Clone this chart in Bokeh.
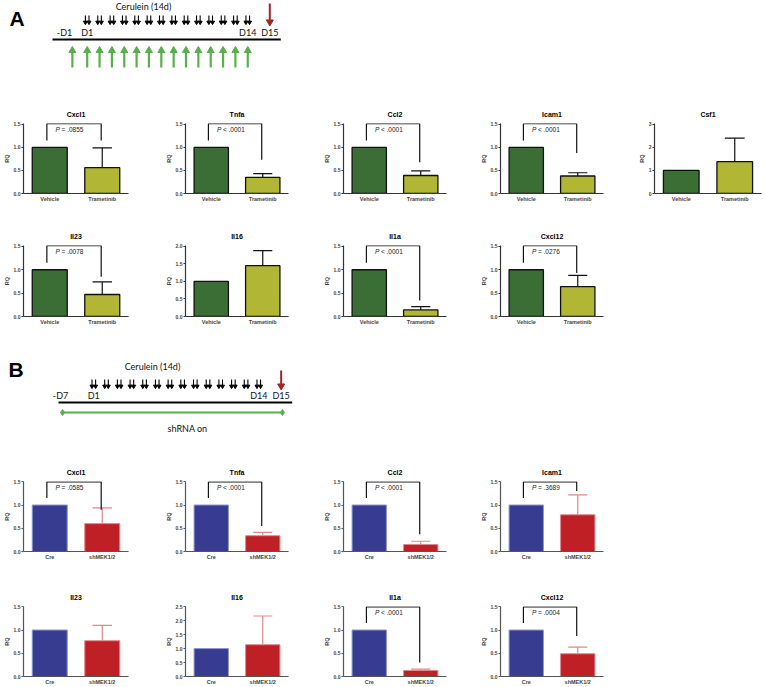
import numpy as np
from bokeh.plotting import figure
from bokeh.layouts import column, row
from bokeh.models import Range1d, FixedTicker, NumeralTickFormatter, Spacer
from bokeh.embed import file_html
from bokeh.resources import INLINE
from bokeh.core.properties import value

# ---------------- data: panel A (trametinib) ----------------
genes_A = ["Cxcl1", "Tnfa", "Ccl2", "Icam1", "Csf1", "Il23", "Il16", "Il1a", "Cxcl12"]
groups_A = ["Vehicle", "Trametinib"]
vehicle_A = [1.0, 1.0, 1.0, 1.0, 1.0, 1.0, 1.0, 1.0, 1.0]
trametinib_A = [0.56, 0.35, 0.39, 0.38, 1.38, 0.47, 1.45, 0.14, 0.64]
trametinib_err_A = [0.43, 0.08, 0.10, 0.07, 1.02, 0.27, 0.43, 0.07, 0.24]
pvals_A = ["P = .0855", "P < .0001", "P < .0001", "P < .0001", "", "P = .0078", "", "P < .0001", "P = .0276"]
ymax_A = [1.5, 1.5, 1.5, 1.5, 3.0, 1.5, 2.0, 1.5, 1.5]
ystep_A = [0.5, 0.5, 0.5, 0.5, 1.0, 0.5, 0.5, 0.5, 0.5]
bracket_right_A = [1.15, 0.73, 0.68, 0.88, 0, 0.85, 0, 0.34, 0.93]

# ---------------- data: panel B (shMEK1/2) ----------------
genes_B = ["Cxcl1", "Tnfa", "Ccl2", "Icam1", "Il23", "Il16", "Il1a", "Cxcl12"]
groups_B = ["Cre", "shMEK1/2"]
cre_B = [1.0, 1.0, 1.0, 1.0, 1.0, 1.0, 1.0, 1.0]
shmek_B = [0.60, 0.34, 0.15, 0.79, 0.77, 1.14, 0.13, 0.49]
shmek_err_B = [0.34, 0.07, 0.07, 0.43, 0.33, 1.03, 0.03, 0.14]
pvals_B = ["P = .0585", "P < .0001", "P < .0001", "P = .3689", "", "", "P < .0001", "P = .0004"]
ymax_B = [1.5, 1.5, 1.5, 1.5, 1.5, 2.5, 1.5, 1.5]
ystep_B = [0.5, 0.5, 0.5, 0.5, 0.5, 0.5, 0.5, 0.5]
bracket_right_B = [0.90, 0.55, 0.37, 1.30, 0, 0, 0.30, 0.87]

# ---------------- timeline schematics ----------------
tlA_cerulein_days = list(range(1, 15))
tlA_trametinib_days = list(range(0, 15))
tlA_harvest_day = 15
tlA_tick_days = [-1, 1, 14, 15]
tlA_tick_labels = ["-D1", "D1", "D14", "D15"]

tlB_cerulein_days = list(range(1, 15))
tlB_harvest_day = 15
tlB_tick_days = [-7, 1, 14, 15]
tlB_tick_labels = ["-D7", "D1", "D14", "D15"]
tlB_shrna_days = [-7, 15]

# ---------------- style / layout ----------------
FONT = "Liberation Sans"
TLFONT = "Lato"
PX_PER_UNIT = 27.0
COL_CELL_W = [162, 158, 157, 158, 130]
COL_LEFT = [20, 18, 18, 18, 18]
FRAME_W = 108
BAR_W = 1.333
CAP = 0.37
BR_L, BR_R = 0.89, 2.96
BR_LEFT_BOTTOM = 1.15
P_X, P_Y = 1.22, 1.38
TOP_B, BOT_B = 22, 9


def bar_panel(gene, ymax, ystep, ctrl, treat, err, pval, br_right, groups, fills,
              edges, edge_w, err_color, axis_color, col, frame_h, ypad, btop):
    cw = COL_CELL_W[col]
    lb = COL_LEFT[col]
    p = figure(width=cw, height=TOP_B + frame_h + BOT_B,
               x_range=Range1d(0, FRAME_W / PX_PER_UNIT),
               y_range=Range1d(0, ymax * ypad),
               output_backend="svg", toolbar_location=None,
               min_border_left=lb, min_border_right=cw - lb - FRAME_W,
               min_border_top=TOP_B, min_border_bottom=BOT_B)
    p.outline_line_color = None
    p.grid.visible = False
    p.background_fill_color = None
    p.title.text = gene
    p.title.align = "center"
    p.title.vertical_align = "top"
    p.title.text_font = FONT
    p.title.text_font_size = "7px"
    p.title.text_font_style = "bold"
    p.title.text_color = "#000000"
    p.title.standoff = 7

    yax = p.yaxis[0]
    n = int(round(ymax / ystep))
    yax.ticker = FixedTicker(ticks=[i * ystep for i in range(n + 1)])
    yax.formatter = NumeralTickFormatter(format="0.0" if ystep < 1 else "0")
    yax.axis_label = "RQ"
    yax.axis_label_text_font = FONT
    yax.axis_label_text_font_size = "5.5px"
    yax.axis_label_text_font_style = "bold"
    yax.axis_label_standoff = 1
    yax.major_label_text_font = FONT
    yax.major_label_text_font_size = "5px"
    yax.major_label_text_font_style = "bold"
    yax.major_label_standoff = 1
    yax.major_tick_out = 2
    yax.major_tick_in = 0
    yax.minor_tick_out = 0
    yax.minor_tick_in = 0
    yax.axis_line_color = axis_color
    yax.axis_line_width = 1.2
    yax.major_tick_line_color = axis_color

    xax = p.xaxis[0]
    xax.ticker = FixedTicker(ticks=[1, 3])
    xax.major_label_overrides = {1: groups[0], 3: groups[1]}
    xax.major_tick_out = 0
    xax.major_tick_in = 0
    xax.minor_tick_out = 0
    xax.minor_tick_in = 0
    xax.major_label_standoff = 2
    xax.major_label_text_font = FONT
    xax.major_label_text_font_size = "5.5px"
    xax.major_label_text_font_style = "bold"
    xax.axis_line_color = axis_color
    xax.axis_line_width = 1.2

    p.vbar(x=[1, 3], width=BAR_W, top=[ctrl, treat], bottom=0,
           fill_color=fills, line_color=edges, line_width=edge_w)
    p.segment(x0=[3], y0=[treat], x1=[3], y1=[treat + err], line_color=err_color, line_width=1.2)
    p.segment(x0=[3 - CAP], y0=[treat + err], x1=[3 + CAP], y1=[treat + err],
              line_color=err_color, line_width=1.2)
    if pval:
        top = ymax * btop
        p.line(x=[BR_L, BR_L, BR_R, BR_R], y=[BR_LEFT_BOTTOM, top, top, br_right],
               line_color="#111111", line_width=1.2)
        p.text(x=[P_X], y=[P_Y], text=[pval[0]], text_font=value(FONT),
               text_font_style="italic", text_font_size="6.5px",
               text_baseline="middle", text_color="#222222")
        p.text(x=[P_X], y=[P_Y], text=[pval[2:]], x_offset=6, text_font=value(FONT),
               text_font_size="6.5px", text_baseline="middle", text_color="#222222")
    return p


def timeline_fig(height, y_top):
    p = figure(width=765, height=height, x_range=Range1d(0, 765),
               y_range=Range1d(y_top + height, y_top),
               output_backend="svg", toolbar_location=None,
               x_axis_location=None, y_axis_location=None, min_border=0)
    p.grid.visible = False
    p.outline_line_color = None
    return p


def draw_pairs(p, xs, y0, y1):
    for off in (-1.8, 1.8):
        xx = [x + off for x in xs]
        p.segment(x0=xx, y0=[y0] * len(xx), x1=xx, y1=[y1 - 1.5] * len(xx),
                  line_color="black", line_width=1.1)
        p.scatter(x=xx, y=[y1 - 1.2] * len(xx), marker="inverted_triangle", size=4,
                  fill_color="black", line_color="black")


def tl_text(p, x, y, s, size="9px"):
    p.text(x=[x], y=[y], text=[s], text_font=value(TLFONT), text_font_size=size,
           text_align="center", text_baseline="middle", text_color="#111111")


RED = "#a0262a"
GREEN = "#58b04c"

# ----- timeline A -----
TL_A_X1, TL_A_STEP, TL_GAP = 86.7, 12.35, 9.7


def xA(d):
    return TL_A_X1 + (d - 1) * TL_A_STEP + (TL_GAP if d >= 15 else 0)


tA = timeline_fig(101, 0)
tA.text(x=[16.5], y=[18], text=["A"], text_font=value(FONT), text_font_style="bold",
        text_font_size="21px", text_align="center", text_baseline="middle", text_color="black")
tl_text(tA, 143, 6, "Cerulein (14d)")
draw_pairs(tA, [xA(d) for d in tlA_cerulein_days], 15, 23)
hx = xA(tlA_harvest_day)
tA.segment(x0=[hx], y0=[3], x1=[hx], y1=[20], line_color=RED, line_width=2)
tA.scatter(x=[hx], y=[21.5], marker="inverted_triangle", size=7, fill_color=RED, line_color=RED)
for d, lab in zip(tlA_tick_days, tlA_tick_labels):
    tl_text(tA, xA(d) + (2 if d < 0 else 0), 32, lab)
tA.segment(x0=[xA(-1) - 10], y0=[39], x1=[xA(15) + 11], y1=[39], line_color="black", line_width=2.2)
gx = [xA(d) for d in tlA_trametinib_days]
gx[0] -= 2.5
tA.segment(x0=gx, y0=[67] * len(gx), x1=gx, y1=[51] * len(gx), line_color=GREEN, line_width=2.2)
tA.scatter(x=gx, y=[50] * len(gx), marker="triangle", size=7, fill_color=GREEN, line_color=GREEN)

# ----- timeline B -----
TL_B_X1, TL_B_STEP = 93.3, 12.69


def xB(d):
    if d < 1:
        return TL_B_X1 - 33.3 + (d + 7) * 4.16
    return TL_B_X1 + (d - 1) * TL_B_STEP + (TL_GAP if d >= 15 else 0)


tB = timeline_fig(132, 327)
tB.text(x=[15.5], y=[369], text=["B"], text_font=value(FONT), text_font_style="bold",
        text_font_size="21px", text_align="center", text_baseline="middle", text_color="black")
tl_text(tB, 152, 366, "Cerulein (14d)")
draw_pairs(tB, [xB(d) for d in tlB_cerulein_days], 379, 387)
hxb = xB(tlB_harvest_day)
tB.segment(x0=[hxb], y0=[370], x1=[hxb], y1=[384], line_color=RED, line_width=2)
tB.scatter(x=[hxb], y=[385.5], marker="inverted_triangle", size=7, fill_color=RED, line_color=RED)
for d, lab in zip(tlB_tick_days, tlB_tick_labels):
    tl_text(tB, xB(d), 395, lab)
tB.segment(x0=[xB(-7) - 2], y0=[402], x1=[xB(15) + 11], y1=[402], line_color="black", line_width=2.2)
sx0, sx1 = xB(tlB_shrna_days[0]) + 2, xB(tlB_shrna_days[1]) + 1.3
tB.segment(x0=[sx0], y0=[412], x1=[sx1], y1=[412], line_color=GREEN, line_width=2)
tB.scatter(x=[sx0, sx1], y=[412, 412], marker="diamond", size=6, fill_color=GREEN, line_color=GREEN)
tl_text(tB, 187, 428, "shRNA on")

# ----- bar panels -----
A_FILLS = ["#3a6e35", "#b1b735"]
A_EDGES = ["#111111", "#111111"]
B_FILLS = ["#383c91", "#be2026"]
B_EDGES = ["#8f92d0", "#e3868c"]


def panel_A(i, col, frame_h):
    return bar_panel(genes_A[i], ymax_A[i], ystep_A[i], vehicle_A[i], trametinib_A[i],
                     trametinib_err_A[i], pvals_A[i], bracket_right_A[i], groups_A,
                     A_FILLS, A_EDGES, 1.3, "#111111", "#333333", col, frame_h, 1.012, 1.01)


def panel_B(i, col, frame_h):
    return bar_panel(genes_B[i], ymax_B[i], ystep_B[i], cre_B[i], shmek_B[i],
                     shmek_err_B[i], pvals_B[i], bracket_right_B[i], groups_B,
                     B_FILLS, B_EDGES, 1.0, "#e3868c", "#555555", col, frame_h, 1.004, 0.998)


rowA1 = row([panel_A(i, i, 72) for i in range(5)], spacing=0)
rowA2 = row([panel_A(5 + i, i, 73) for i in range(4)], spacing=0)
rowB1 = row([panel_B(i, i, 72) for i in range(4)], spacing=0)
rowB2 = row([panel_B(4 + i, i, 72) for i in range(4)], spacing=0)

layout = column([tA, rowA1, Spacer(width=765, height=19), rowA2, tB, rowB1,
                 Spacer(width=765, height=22), rowB2], spacing=0)

open("out.html", "w").write(file_html(layout, INLINE))
